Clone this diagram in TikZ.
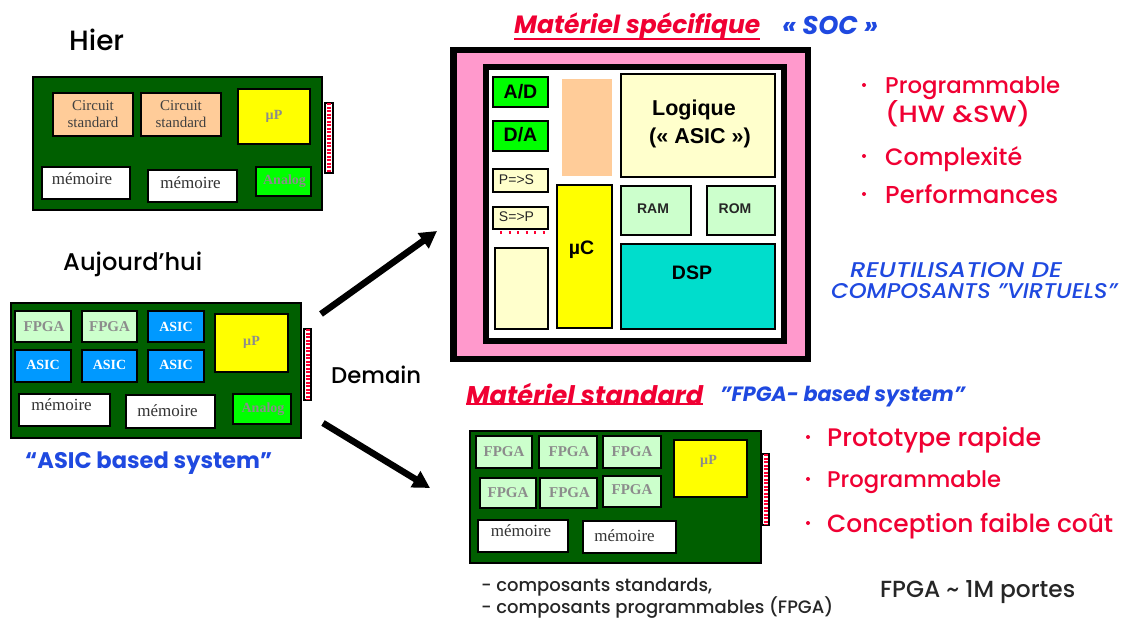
\documentclass[tikz,border=0pt]{standalone}
\usepackage{fontspec}
\setmainfont{Poppins Medium}[BoldFont={Poppins Bold},ItalicFont={Poppins Medium Italic},BoldItalicFont={Poppins Bold Italic}]
\newfontfamily\serifnt{Liberation Serif}
\newfontfamily\arialfnt{Liberation Sans}
\definecolor{board}{HTML}{005F00}
\definecolor{peach}{HTML}{FFCC99}
\definecolor{pinkc}{HTML}{FF99CC}
\definecolor{lemon}{HTML}{FFFFCC}
\definecolor{mint}{HTML}{CCFFCC}
\definecolor{sky}{HTML}{0099FF}
\definecolor{tealc}{HTML}{00DDCC}
\definecolor{redt}{HTML}{F00033}
\definecolor{bluet}{HTML}{1F49E0}
\definecolor{greyt}{HTML}{8C8C8C}
\definecolor{yellowc}{HTML}{FFFF00}
\definecolor{greenc}{HTML}{00FF00}
\definecolor{pinred}{HTML}{FF0033}
\usetikzlibrary{arrows.meta}
\tikzset{
  x=1pt,y=-1pt,
  boxb/.style={draw=black,line width=2.4pt,inner sep=0pt,outer sep=0pt,rectangle},
  boardb/.style={boxb,fill=board},
  peachb/.style={boxb,fill=peach},
  yellowb/.style={boxb,fill=yellowc},
  whiteb/.style={boxb,fill=white},
  greenb/.style={boxb,fill=greenc},
  mintb/.style={boxb,fill=mint},
  skyb/.style={boxb,fill=sky},
  lemonb/.style={boxb,fill=lemon},
  tealb/.style={boxb,fill=tealc},
  lb/.style={inner sep=0pt,align=center},
  circ/.style={lb,font=\serifnt\fontsize{15}{17}\selectfont,text=black!75},
  memt/.style={lb,font=\serifnt\fontsize{17}{18}\selectfont,text=black!80},
  gbold/.style={lb,font=\serifnt\bfseries\fontsize{14}{16}\selectfont,text=greyt},
  gboldf/.style={lb,font=\serifnt\bfseries\fontsize{15}{16}\selectfont,text=greyt},
  wbold/.style={lb,font=\serifnt\bfseries\fontsize{14}{16}\selectfont,text=white},
  arl/.style={lb,font=\arialfnt\bfseries\fontsize{14}{18}\selectfont,text=black!85},
  arls/.style={lb,font=\arialfnt\fontsize{14}{18}\selectfont,text=black!85},
  arlb/.style={lb,font=\arialfnt\bfseries\fontsize{19.5}{25}\selectfont,text=black},
  arlg/.style={lb,font=\arialfnt\bfseries\fontsize{21.5}{28}\selectfont,text=black},
  tt/.style={inner sep=0pt,anchor=west},
  bigarrow/.style={line width=6.5pt,-{Triangle[length=17pt,width=18pt]}},
  pins/.style={pinred,line width=4pt,dash pattern=on 2pt off 1.5pt},
}
% style, name, x1,y1,x2,y2, text style, offset, text
\newcommand{\bx}[9]{%
  \pgfmathsetmacro{\bw}{#5-#3-2.4}\pgfmathsetmacro{\bh}{#6-#4-2.4}%
  \pgfmathsetmacro{\cxx}{(#3+#5)/2}\pgfmathsetmacro{\cyy}{(#4+#6)/2}%
  \node[#1,minimum width=\bw pt,minimum height=\bh pt] (#2) at (\cxx,\cyy) {};%
  \node[#7] (#2t) at ([shift={(#8)}]#2.center) {#9};}
\newcommand{\conn}[5]{%
  \pgfmathsetmacro{\bw}{#4-#2-2}\pgfmathsetmacro{\bh}{#5-#3-2}%
  \pgfmathsetmacro{\cxx}{(#2+#4)/2}\pgfmathsetmacro{\cyy}{(#3+#5)/2}%
  \node[draw=black,line width=1.6pt,fill=white,inner sep=0pt,minimum width=\bw pt,minimum height=\bh pt] (#1) at (\cxx,\cyy) {};%
  \draw[pins] ([yshift=-1pt]#1.north) -- ([yshift=1pt]#1.south);}
\newcommand{\fw}[2]{\resizebox{#1pt}{!}{#2}}
\begin{document}
\begin{tikzpicture}
\useasboundingbox (0,0) rectangle (1124,623);
\fill[white] (0,0) rectangle (1124,623);

% ---- Hier
\node[tt,font=\fontsize{22}{26}\selectfont] (hier) at (69,40) {\fw{55}{Hier}};
\conn{c1}{324}{102}{334}{174}
\node[boardb,minimum width=289pt,minimum height=133pt] (b1) at (177.5,143.5) {};
\bx{peachb}{a1}{52}{92}{134}{137}{circ}{0,0}{Circuit\\standard}
\bx{peachb}{a2}{140}{92}{222}{137}{circ}{0,0}{Circuit\\standard}
\bx{yellowb}{a3}{237}{88}{311}{145}{gbold}{0,0}{µP}
\bx{whiteb}{a4}{41}{166}{131}{200}{memt}{-4,-4}{mémoire}
\bx{whiteb}{a5}{147}{169}{238}{203}{memt}{-2,-3}{mémoire}
\bx{greenb}{a6}{255}{166}{312}{197}{gbold}{1,0}{Analog}

% ---- Aujourd'hui
\node[tt,font=\fontsize{22}{26}\selectfont] (auj) at (63,264) {\fw{139}{Aujourd'hui}};
\conn{c2}{303}{328}{312}{401}
\node[boardb,minimum width=290pt,minimum height=135pt] (b2) at (156,370.5) {};
\bx{mintb}{d1}{14}{310}{72}{343}{gboldf}{1,0}{FPGA}
\bx{mintb}{d2}{81}{310}{138}{343}{gboldf}{0,0}{FPGA}
\bx{skyb}{d3}{147}{310}{205}{343}{wbold}{0,0}{ASIC}
\bx{skyb}{d4}{14}{349}{72}{383}{wbold}{0,-1}{ASIC}
\bx{skyb}{d5}{81}{349}{138}{383}{wbold}{0,-1}{ASIC}
\bx{skyb}{d6}{147}{349}{205}{383}{wbold}{0,-1}{ASIC}
\bx{yellowb}{d7}{214}{313}{289}{373}{gbold}{0,-1}{µP}
\bx{whiteb}{d8}{18}{393}{111}{427}{memt}{-3,-5}{mémoire}
\bx{whiteb}{d9}{125}{394}{216}{429}{memt}{-3,-1}{mémoire}
\bx{greenb}{d10}{232}{393}{292}{425}{gbold}{1,0}{Analog}
\node[tt,font=\bfseries\fontsize{20}{24}\selectfont,text=bluet] (asicsys) at (25,463) {\fw{247}{“ASIC based system”}};

% ---- Demain + arrows
\node[tt,font=\fontsize{22}{26}\selectfont] (dem) at (331,375) {\fw{90}{Demain}};
\coordinate (ar1s) at (321,314); \coordinate (ar1e) at (437,231);
\coordinate (ar2s) at (323,423); \coordinate (ar2e) at (430,488);
\draw[bigarrow] (ar1s) -- (ar1e);
\draw[bigarrow] (ar2s) -- (ar2e);

% ---- SOC
\node[tt,font=\bfseries\itshape\fontsize{22}{26}\selectfont,text=redt] (t1) at (514,26) {\fw{246}{Matériel spécifique}};
\draw[redt,line width=1.4pt] ([yshift=1pt]t1.south west) -- ([yshift=1pt]t1.south east);
\node[tt,font=\bfseries\itshape\fontsize{20}{24}\selectfont,text=bluet] (t2) at (782,25) {\fw{96}{« SOC »}};

\node[draw=black,line width=6.5pt,fill=pinkc,inner sep=0pt,minimum width=354.5pt,minimum height=308.5pt] (soc) at (630.5,204.5) {};
\node[draw=black,line width=6pt,fill=white,inner sep=0pt,minimum width=298pt,minimum height=274pt] (core) at (635,204) {};
\bx{greenb}{s1}{492}{76}{549}{108}{arlb}{0,0}{A/D}
\bx{greenb}{s2}{492}{120}{549}{152}{arlb}{0,-1}{D/A}
\bx{lemonb}{s3}{492}{168}{549}{193}{arls}{-4,-1}{P=>S}
\bx{lemonb}{s4}{492}{206}{549}{230}{arls}{-4,-1}{S=>P}
\coordinate (pd1) at (500,232.5); \coordinate (pd2) at (548,232.5);
\draw[pinred,line width=3pt,dash pattern=on 2pt off 6.5pt] (pd1) -- (pd2);
\node[boxb,fill=lemon,minimum width=52.6pt,minimum height=80.6pt] (s5) at (521.5,288.5) {};
\node[fill=peach,inner sep=0pt,minimum width=50pt,minimum height=97pt] (s6) at (587,127.5) {};
\bx{yellowb}{s7}{556}{184}{613}{329}{arlb}{-3,-7}{µC}
\bx{lemonb}{s8}{620}{73}{776}{178}{arlg}{-4,-2}{Logique\\\ \ («~ASIC~»)}
\bx{mintb}{s9}{620}{185}{692}{236}{arl}{-3,-2}{RAM}
\bx{mintb}{s10}{706}{185}{776}{236}{arl}{-6,-2}{ROM}
\bx{tealb}{s11}{620}{243}{776}{330}{arlb}{-6,-14}{DSP}

% ---- SOC right text
\foreach \n/\xx/\yy in {p1/864/85,p2/864/156,p3/864/194,p4/808/437,p5/808/479,p6/808/523}
  \node[circle,fill=redt,inner sep=0pt,minimum size=4pt] (\n) at (\xx,\yy) {};
\node[tt,font=\fontsize{22}{26}\selectfont,text=redt] (q1) at (885,88) {\fw{175}{Programmable}};
\node[tt,font=\fontsize{22}{26}\selectfont,text=redt] (q2) at (885,114) {\resizebox{145pt}{22pt}{(HW \&SW)}};
\node[tt,font=\fontsize{22}{26}\selectfont,text=redt] (q3) at (885,159) {\fw{137}{Complexité}};
\node[tt,font=\fontsize{22}{26}\selectfont,text=redt] (q4) at (885,194) {\fw{173}{Performances}};
\node[tt,font=\itshape\fontsize{18}{22}\selectfont,text=bluet] (r1) at (850,270) {\resizebox{212pt}{15pt}{REUTILISATION DE}};
\node[tt,font=\itshape\fontsize{18}{22}\selectfont,text=bluet] (r2) at (831,291) {\resizebox{286pt}{15pt}{COMPOSANTS "VIRTUELS"}};

% ---- Standard
\node[tt,font=\bfseries\itshape\fontsize{22}{26}\selectfont,text=redt] (t3) at (466,394) {\fw{237}{Matériel standard}};
\draw[redt,line width=1.4pt] ([yshift=1pt]t3.south west) -- ([yshift=1pt]t3.south east);
\node[tt,font=\bfseries\itshape\fontsize{20}{24}\selectfont,text=bluet] (t4) at (720,397) {\fw{245}{"FPGA- based system"}};
\conn{c3}{761}{453}{770}{526}
\node[boardb,minimum width=291pt,minimum height=132pt] (b3) at (615.5,497) {};
\bx{mintb}{f1}{475}{435}{533}{469}{gboldf}{0,0}{FPGA}
\bx{mintb}{f2}{538}{435}{598}{469}{gboldf}{1,0}{FPGA}
\bx{mintb}{f3}{602}{435}{662}{469}{gboldf}{0,0}{FPGA}
\bx{mintb}{f4}{479}{477}{537}{509}{gboldf}{0,0}{FPGA}
\bx{mintb}{f5}{539}{477}{598}{509}{gboldf}{1,0}{FPGA}
\bx{mintb}{f6}{602}{475}{662}{508}{gboldf}{0,-2}{FPGA}
\bx{yellowb}{f7}{673}{439}{748}{498}{gbold}{-2,-7}{µP}
\bx{whiteb}{f8}{477}{519}{569}{553}{memt}{-2,-5}{mémoire}
\bx{whiteb}{f9}{582}{520}{677}{554}{memt}{-5,-1}{mémoire}
\node[tt,font=\fontsize{22}{26}\selectfont,text=redt] (u1) at (827,440) {\fw{214}{Prototype rapide}};
\node[tt,font=\fontsize{22}{26}\selectfont,text=redt] (u2) at (827,482) {\fw{174}{Programmable}};
\node[tt,font=\fontsize{22}{26}\selectfont,text=redt] (u3) at (827,526) {\fw{286}{Conception faible coût}};
\node[tt,font=\fontsize{18}{22}\selectfont,text=black!85] (v1) at (481,587) {\fw{231}{- composants standards,}};
\node[tt,font=\fontsize{18}{22}\selectfont,text=black!85] (v2) at (481,608) {\fw{352}{- composants programmables (FPGA)}};
\node[tt,font=\fontsize{18}{22}\selectfont,text=black!85] (v3) at (880,592) {\fw{195}{FPGA \textasciitilde{} 1M portes}};
\end{tikzpicture}
\end{document}
